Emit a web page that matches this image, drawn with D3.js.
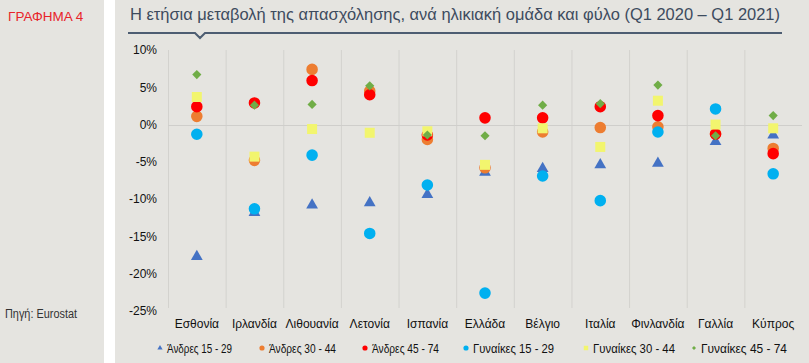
<!DOCTYPE html>
<html>
<head>
<meta charset="utf-8">
<script src="https://cdn.jsdelivr.net/npm/d3@7"></script>
<style>
    body { margin: 0; background: #fff; }
    #mainChart { width: 809px; height: 363px; }
    text { font-family: "Liberation Sans", Arial, sans-serif; }
</style>
</head>
<body>
<div id="mainChart"></div>
<script>
const countries = ['Εσθονία', 'Ιρλανδία', 'Λιθουανία', 'Λετονία', 'Ισπανία', 'Ελλάδα', 'Βέλγιο', 'Ιταλία', 'Φινλανδία', 'Γαλλία', 'Κύπρος'];

// values in % per country, same order as countries
const men1529 = [-17.7, -11.8, -10.8, -10.5, -9.4, -6.4, -5.9, -5.4, -5.2, -2.3, -1.4];
const men3044 = [1.1, -4.8, 7.4, 4.5, -2.0, -5.8, -1.0, -0.4, -0.3, -1.2, -3.2];
const men4574 = [2.4, 2.9, 5.9, 4.0, -1.4, 0.9, 0.9, 2.4, 1.2, -1.3, -3.9];
const women1529 = [-1.3, -11.3, -4.1, -14.6, -8.1, -22.6, -6.9, -10.2, -1.0, 2.1, -6.6];
const women3044 = [3.7, -4.3, -0.6, -1.1, -0.9, -5.4, -0.5, -3.0, 3.2, 0.0, -0.5];
const women4574 = [6.7, 2.6, 2.7, 5.2, -1.4, -1.5, 2.6, 2.8, 5.3, -1.5, 1.2];

const seriesNames = ['Άνδρες 15 - 29', 'Άνδρες 30 - 44', 'Άνδρες 45 - 74', 'Γυναίκες 15 - 29', 'Γυναίκες 30 - 44', 'Γυναίκες 45 - 74'];
const yTicks = [10, 5, 0, -5, -10, -15, -20, -25];

const series = [
    { name: seriesNames[0], values: men1529, color: '#4472c4', shape: 'triangle' },
    { name: seriesNames[1], values: men3044, color: '#ed7d31', shape: 'circle' },
    { name: seriesNames[2], values: men4574, color: '#ff0000', shape: 'circle' },
    { name: seriesNames[3], values: women1529, color: '#00b0f0', shape: 'circle' },
    { name: seriesNames[4], values: women3044, color: '#f2f56e', shape: 'square' },
    { name: seriesNames[5], values: women4574, color: '#70ad47', shape: 'diamond' },
];

const width = 809, height = 363;
const margin = { top: 50, right: 7, bottom: 52, left: 168 };
const bg = '#e5e4e0';

const svg = d3.select('#mainChart').append('svg')
    .attr('width', width)
    .attr('height', height);

// panels
svg.append('rect').attr('x', 0).attr('y', 0).attr('width', 104).attr('height', height).attr('fill', bg);
svg.append('rect').attr('x', 115).attr('y', 0).attr('width', width - 115).attr('height', height).attr('fill', bg);

svg.append('text')
    .attr('x', 8).attr('y', 21)
    .attr('font-size', 13.5).attr('fill', '#e8232a')
    .text('ΓΡΑΦΗΜΑ 4');

svg.append('text')
    .attr('x', 5).attr('y', 318)
    .attr('font-size', 12.5).attr('fill', '#333')
    .attr('textLength', 72).attr('lengthAdjust', 'spacingAndGlyphs')
    .text('Πηγή: Eurostat');

// title
svg.append('text')
    .attr('x', 130).attr('y', 20)
    .attr('font-size', 16.5).attr('fill', '#3d4b5e')
    .attr('textLength', 650).attr('lengthAdjust', 'spacingAndGlyphs')
    .text('Η ετήσια μεταβολή της απασχόλησης, ανά ηλικιακή ομάδα και φύλο (Q1 2020 – Q1 2021)');

svg.append('path')
    .attr('d', 'M128,33 L195,33 L200,38 L205,33 L782,33')
    .attr('fill', 'none')
    .attr('stroke', '#4d5d72')
    .attr('stroke-width', 2);

const x = d3.scaleBand()
    .domain(countries)
    .range([margin.left, width - margin.right])
    .padding(0);

const y = d3.scaleLinear()
    .domain([-25, 10])
    .range([height - margin.bottom, margin.top]);

// vertical gridlines at band edges
svg.append('g')
    .selectAll('line')
    .data(countries)
    .join('line')
    .attr('x1', d => x(d) + 0.5)
    .attr('x2', d => x(d) + 0.5)
    .attr('y1', y(10))
    .attr('y2', y(-25) - 3)
    .attr('stroke', '#d3d2ce')
    .attr('stroke-width', 1);

// zero line
svg.append('line')
    .attr('x1', margin.left)
    .attr('x2', width - margin.right)
    .attr('y1', Math.round(y(0)) + 0.5)
    .attr('y2', Math.round(y(0)) + 0.5)
    .attr('stroke', '#cfcecb');

// y axis
const yAxis = g => g
    .attr('transform', `translate(${margin.left - 8},0)`)
    .call(d3.axisLeft(y).tickValues(yTicks).tickFormat(d => d + '%').tickSize(0))
    .call(g => g.select('.domain').remove())
    .call(g => g.selectAll('text')
        .attr('font-size', 12)
        .attr('fill', '#111')
        .attr('font-family', '"Liberation Sans", Arial, sans-serif'));
svg.append('g').call(yAxis);

// x axis labels
const xAxis = g => g
    .attr('transform', `translate(0,${height - margin.bottom + 5})`)
    .call(d3.axisBottom(x).tickSize(0))
    .call(g => g.select('.domain').remove())
    .call(g => g.selectAll('text')
        .attr('font-size', 12)
        .attr('fill', '#111')
        .attr('font-family', '"Liberation Sans", Arial, sans-serif'));
svg.append('g').call(xAxis);

const symbolFor = (shape, scale) => {
    if (shape === 'triangle') return d3.symbol(d3.symbolTriangle, 60 * scale)();
    if (shape === 'square') return d3.symbol(d3.symbolSquare, 100 * scale)();
    if (shape === 'diamond') return d3.symbol(d3.symbolSquare, 42 * scale)();
    return d3.symbol(d3.symbolCircle, 105 * scale)();
};

const cx = d => x(d) + x.bandwidth() / 2;

series.forEach(s => {
    svg.append('g')
        .selectAll('path')
        .data(countries)
        .join('path')
        .attr('d', symbolFor(s.shape, 1))
        .attr('transform', (d, i) => `translate(${cx(d)},${y(s.values[i])})` + (s.shape === 'diamond' ? ' rotate(45)' : ''))
        .attr('fill', s.color);
});

// legend
const legendX = [160, 262, 365, 466, 586, 694];
const legendW = [65, 67, 67, 81, 82, 86];
const legend = svg.append('g').attr('transform', 'translate(0,348)');
series.forEach((s, i) => {
    const g = legend.append('g').attr('transform', `translate(${legendX[i]},0)`);
    g.append('path')
        .attr('d', symbolFor(s.shape, 0.2))
        .attr('transform', s.shape === 'diamond' ? 'rotate(45)' : null)
        .attr('fill', s.color);
    g.append('text')
        .attr('x', 7).attr('y', 4.5)
        .attr('font-size', 13)
        .attr('textLength', legendW[i])
        .attr('lengthAdjust', 'spacingAndGlyphs')
        .attr('fill', '#111')
        .text(s.name);
});
</script>
</body>
</html>
